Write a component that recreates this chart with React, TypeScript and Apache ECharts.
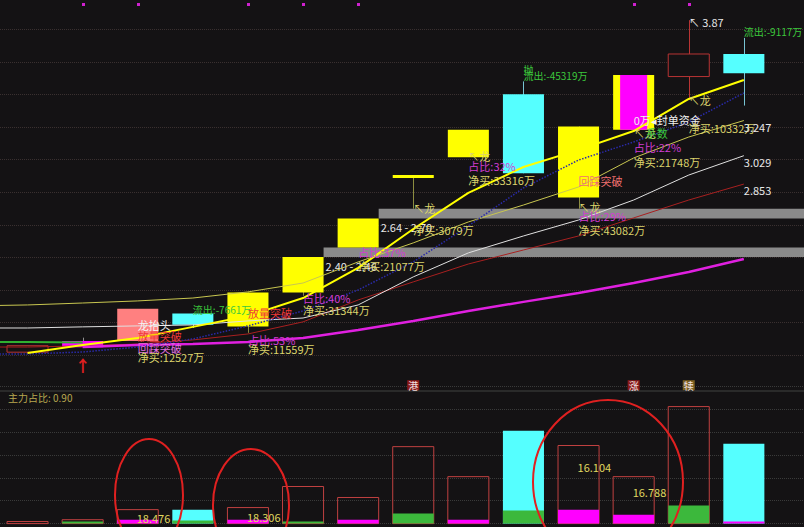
import React, { useEffect, useRef } from "react";
import * as echarts from "echarts";

// ---------- data ----------
const days = ["前", "D1", "D2", "D3", "D4", "D5", "D6", "D7", "D8", "D9", "D10", "D11", "D12", "D13", "D14"];
const openP = [null, 1.81, 1.84, 1.88, 2.05, 1.97, 2.18, 2.46, 2.90, 3.02, 3.41, 2.77, 3.19, 3.52, 3.66];
const closeP = [null, 1.85, 1.88, 2.08, 1.98, 2.18, 2.40, 2.64, 2.90, 3.19, 2.92, 3.21, 3.53, 3.66, 3.54];
const lowP = [null, 1.81, 1.84, 1.88, 1.96, 1.93, 2.16, 2.46, 2.70, 3.02, 2.92, 2.70, 3.19, 3.38, 3.34];
const highP = [null, 1.85, 1.90, 2.08, 2.05, 2.18, 2.40, 2.64, 2.90, 3.19, 3.49, 3.21, 3.53, 3.87, 3.76];
const candleKinds = ["", "hollow", "magenta", "pink", "down", "limit", "limit", "limit", "limit", "limit", "down", "limit", "special", "hollow", "down"];

const maFast = [null, 1.805, 1.855, 1.898, 1.967, 2.035, 2.146, 2.333, 2.574, 2.798, 2.959, 3.065, 3.182, 3.381, 3.499];
const maOlive = [2.097, 2.103, 2.115, 2.128, 2.146, 2.184, 2.239, 2.37, 2.488, 2.618, 2.723, 2.835, 3.015, 3.145, 3.247];
const maWhite = [1.96, 1.96, 1.967, 1.973, 1.979, 2.004, 2.022, 2.103, 2.277, 2.426, 2.531, 2.63, 2.754, 2.909, 3.029];
const maRed = [1.842, 1.842, 1.849, 1.861, 1.886, 1.923, 1.998, 2.134, 2.246, 2.357, 2.444, 2.531, 2.643, 2.754, 2.853];
const maMagenta = [null, null, 1.842, 1.855, 1.861, 1.873, 1.898, 1.948, 2.004, 2.066, 2.122, 2.177, 2.239, 2.308, 2.388];
const maNavy = [1.799, 1.799, 1.811, 1.842, 1.892, 1.973, 2.066, 2.196, 2.37, 2.593, 2.829, 3.002, 3.114, 3.238, 3.418];
const maGreen = [1.873, 1.873, 1.87, null, null, null, null, null, null, null, null, null, null, null, null];

const gaps = [
  { i: 6, low: 2.4, high: 2.46 },
  { i: 7, low: 2.64, high: 2.7 },
];

const volume = [null, 9, 17, 61, 61, 70, 162, 114, 336, 205, 406, 341, 205, 511, 349];
const mainForce = [null, 0, 9, 17, 13, 17, 9, 17, 44, 17, 57, 61, 39, 79, 9];
const mainForceSide = ["", "out", "out", "in", "out", "in", "out", "in", "out", "in", "out", "in", "in", "out", "in"];
const volNotes = [
  { i: 3, v: 26, text: "18.476" },
  { i: 5, v: 31, text: "18.306" },
  { i: 11, v: 249, text: "16.104" },
  { i: 12, v: 140, text: "16.788" },
];
const badges = [
  { i: 8, text: "港", kind: "red" },
  { i: 12, text: "涨", kind: "red" },
  { i: 13, text: "犊", kind: "gold" },
];
const topMarks = [2, 3, 5, 6, 7, 12, 13];

const notes = [
  { i: 2, p: 1.732, text: "↑", kind: "arrow" },
  { i: 3, p: 1.979, text: "龙抬头", kind: "title" },
  { i: 3, p: 1.911, text: "放量突破", kind: "surge" },
  { i: 3, p: 1.836, text: "回踩突破", kind: "pullback" },
  { i: 3, p: 1.78, text: "净买:12527万", kind: "net" },
  { i: 4, p: 2.072, text: "流出:-7661万", kind: "outflow" },
  { i: 5, p: 2.053, text: "放量突破", kind: "surge" },
  { i: 5, p: 1.886, text: "占比:53%", kind: "ratio" },
  { i: 5, p: 1.83, text: "净买:11559万", kind: "net" },
  { i: 6, p: 2.146, text: "占比:40%", kind: "ratio" },
  { i: 6, p: 2.072, text: "净买:31344万", kind: "net" },
  { i: 7, p: 2.432, text: "占比:37%", kind: "ratio" },
  { i: 7, p: 2.345, text: "净买:21077万", kind: "net" },
  { i: 8, p: 2.705, text: "↖龙", kind: "dragon" },
  { i: 8, p: 2.568, text: "净买:3079万", kind: "net" },
  { i: 9, p: 3.027, text: "↖龙", kind: "dragon" },
  { i: 9, p: 2.965, text: "占比:32%", kind: "ratio" },
  { i: 9, p: 2.878, text: "净买:33316万", kind: "net" },
  { i: 10, p: 3.561, text: "抛", kind: "outflow" },
  { i: 10, p: 3.524, text: "流出:-45319万", kind: "outflow" },
  { i: 11, p: 2.872, text: "回踩突破", kind: "pullbackRed" },
  { i: 11, p: 2.711, text: "↖龙", kind: "dragon" },
  { i: 11, p: 2.655, text: "占比:29%", kind: "ratio" },
  { i: 11, p: 2.568, text: "净买:43082万", kind: "net" },
  { i: 12, p: 3.251, text: "0万◂封单资金", kind: "seal" },
  { i: 12, p: 3.17, text: "↖龙", kind: "dragon" },
  { i: 12, p: 3.17, text: "系数", kind: "coef" },
  { i: 12, p: 3.083, text: "占比:22%", kind: "ratio" },
  { i: 12, p: 2.99, text: "净买:21748万", kind: "net" },
  { i: 13, p: 3.375, text: "↖龙", kind: "dragon" },
  { i: 13, p: 3.201, text: "净买:10332万", kind: "net" },
  { i: 13, p: 3.859, text: "↖ 3.87", kind: "high" },
  { i: 14, p: 3.797, text: "流出:-9117万", kind: "outflow" },
];

// ---------- styles ----------
const BG = "#141214";
const FONT = '"Noto Sans CJK SC", "Noto Sans", sans-serif';
const BAR_RATIO = 0.745;
const SLOT_PX = 55.1;
const YELLOW = "#ffff00";
const CYAN = "#55ffff";
const MAGENTA = "#ff00ff";
const VOL_RED = "#c04040";
const GREEN_FILL = "#3cb83c";

const candleStyle: Record<string, any> = {
  hollow: { color: "#b83434", wick: "#b83434", hollow: true },
  magenta: { color: MAGENTA, wick: "#909090" },
  pink: { color: "#ff8080", wick: "#ff8080" },
  down: { color: CYAN, wick: "#78c4d4" },
  limit: { color: YELLOW, wick: "#8c8c40" },
  special: { color: YELLOW, wick: "#8c8c40" },
};

const noteStyle: Record<string, any> = {
  net: { color: "#dcd46c" },
  ratio: { color: "#d23cd2" },
  outflow: { color: "#3cc83c", size: 10 },
  surge: { color: "#f03838" },
  pullback: { color: "#e070e0" },
  pullbackRed: { color: "#f07070" },
  title: { color: "#f4f4f4" },
  dragon: { color: "#dcd46c" },
  seal: { color: "#f0f0f0" },
  coef: { color: "#3cc83c", dx: 12 },
  high: { color: "#e8e8e8" },
  arrow: { color: "#e02020", size: 16, bold: true, center: true },
  maEnd: { color: "#e8e8e8", dy: 6 },
};

const badgeStyle: Record<string, string> = { red: "#8b1a1a", gold: "#7a6020" };

const maEndNotes = [maOlive, maWhite, maRed].map((arr) => {
  const v = arr[arr.length - 1] as number;
  return { i: arr.length - 1, p: v, text: v.toFixed(3), kind: "maEnd" };
});
const allNotes = [...notes, ...maEndNotes];

function lineSeries(data: (number | null)[], color: string, width: number, type: string = "solid", z = 3) {
  return {
    type: "line",
    xAxisIndex: 0,
    yAxisIndex: 0,
    data: data.map((v, k) => [k, v == null ? "-" : v]),
    showSymbol: false,
    symbol: "none",
    connectNulls: false,
    clip: true,
    z,
    lineStyle: { color, width, type },
    silent: true,
  };
}

function buildOption() {
  const candleData = days
    .map((_, k) => (openP[k] == null ? null : [k, openP[k], closeP[k], lowP[k], highP[k]]))
    .filter(Boolean);

  const volData = days
    .map((_, k) => (volume[k] == null ? null : [k, volume[k], mainForce[k]]))
    .filter(Boolean);

  // index axis: slot k centered at SLOT_PX * (k - 0.5) px
  const idxAxis = (gridIndex: number) => ({
    type: "value",
    gridIndex,
    min: 0.5,
    max: 0.5 + 804 / SLOT_PX,
    show: false,
    splitLine: { show: false },
  });

  return {
    animation: false,
    backgroundColor: BG,
    textStyle: { fontFamily: FONT },
    grid: [
      { left: 0, top: 0, width: 804, height: 372 },
      { left: 0, top: 386.2, width: 804, height: 137.4 },
      { left: 0, top: 29.3, width: 804, height: 326 },
    ],
    xAxis: [idxAxis(0), idxAxis(1), idxAxis(2)],
    yAxis: [
      { type: "value", gridIndex: 0, min: 1.687, max: 3.995, show: false, splitLine: { show: false } },
      {
        type: "value",
        gridIndex: 1,
        min: 0,
        max: 600,
        interval: 100,
        axisLine: { show: false },
        axisTick: { show: false },
        axisLabel: { show: false },
        splitLine: { show: true, lineStyle: { color: "#3a3a3a", type: "dotted", width: 1 } },
      },
      {
        type: "value",
        gridIndex: 2,
        min: 0,
        max: 10,
        interval: 1,
        axisLine: { show: false },
        axisTick: { show: false },
        axisLabel: { show: false },
        splitLine: { show: true, lineStyle: { color: "#3a3030", type: "dotted", width: 1 } },
      },
    ],
    series: [
      // price gaps (gray bands)
      {
        type: "custom",
        xAxisIndex: 0,
        yAxisIndex: 0,
        z: 1,
        silent: true,
        clip: false,
        data: gaps.map((g) => [g.i, g.low, g.high]),
        renderItem: (params: any, api: any) => {
          const i = api.value(0);
          const lo = api.value(1);
          const hi = api.value(2);
          const w = api.size([1, 0])[0] * BAR_RATIO;
          const pLo = api.coord([i, lo]);
          const pHi = api.coord([i, hi]);
          const x0 = pLo[0] + w / 2;
          return {
            type: "group",
            children: [
              {
                type: "rect",
                shape: { x: x0, y: pHi[1], width: api.getWidth() - x0, height: pLo[1] - pHi[1] },
                style: { fill: "#8a8a8a" },
              },
              {
                type: "text",
                x: x0 + 2,
                y: pLo[1] + 9,
                style: {
                  text: `${lo.toFixed(2)} - ${hi.toFixed(2)}`,
                  fill: "#e8e8e8",
                  fontSize: 11,
                  fontFamily: FONT,
                  align: "left",
                  verticalAlign: "middle",
                },
              },
            ],
          };
        },
      },
      // candles
      {
        type: "custom",
        xAxisIndex: 0,
        yAxisIndex: 0,
        z: 2,
        silent: true,
        data: candleData,
        encode: { x: 0, y: [1, 2, 3, 4] },
        renderItem: (params: any, api: any) => {
          const i = api.value(0);
          const o = api.value(1);
          const c = api.value(2);
          const l = api.value(3);
          const h = api.value(4);
          const kind = candleKinds[i];
          const st = candleStyle[kind];
          const w = api.size([1, 0])[0] * BAR_RATIO;
          const po = api.coord([i, o]);
          const pc = api.coord([i, c]);
          const pl = api.coord([i, l]);
          const ph = api.coord([i, h]);
          const cx = Math.round(po[0]) + 0.5;
          const x0 = po[0] - w / 2;
          let top = Math.min(po[1], pc[1]);
          let bh = Math.abs(po[1] - pc[1]);
          if (bh < 3) {
            top -= (3 - bh) / 2;
            bh = 3;
          }
          const children: any[] = [];
          if (ph[1] < top - 0.5 || pl[1] > top + bh + 0.5) {
            children.push({
              type: "line",
              shape: { x1: cx, y1: ph[1], x2: cx, y2: pl[1] },
              style: { stroke: st.wick, lineWidth: 1 },
            });
          }
          children.push({
            type: "rect",
            shape: { x: x0, y: top, width: w, height: bh },
            style: st.hollow ? { fill: BG, stroke: st.color, lineWidth: 1 } : { fill: st.color },
          });
          if (kind === "special") {
            children.push({
              type: "rect",
              shape: { x: x0 + 7, y: top, width: w - 14, height: bh },
              style: { fill: MAGENTA },
            });
          }
          return { type: "group", children };
        },
      },
      lineSeries(maGreen, "#30b030", 2),
      lineSeries(maRed, "#a82020", 1),
      lineSeries(maWhite, "#e0e0e0", 1),
      lineSeries(maMagenta, "#e020e0", 2.5),
      lineSeries(maOlive, "#c8c650", 1),
      lineSeries(maNavy, "#2a2aa8", 1.5, "dotted"),
      lineSeries(maFast, YELLOW, 2),
      // top markers
      {
        type: "custom",
        xAxisIndex: 0,
        yAxisIndex: 0,
        z: 4,
        silent: true,
        clip: false,
        data: topMarks.map((i) => [i, 3]),
        renderItem: (params: any, api: any) => {
          const i = api.value(0);
          const p = api.coord([i, 3]);
          return {
            type: "rect",
            shape: { x: Math.round(p[0]) - 1, y: params.coordSys.y + 3, width: 3, height: 3 },
            style: { fill: "#d020d0" },
          };
        },
      },
      // annotations
      {
        type: "custom",
        xAxisIndex: 0,
        yAxisIndex: 0,
        z: 6,
        silent: true,
        clip: false,
        data: allNotes.map((n, k) => [n.i, n.p, k]),
        renderItem: (params: any, api: any) => {
          const n = allNotes[api.value(2)];
          const st = noteStyle[n.kind];
          const pt = api.coord([n.i, n.p]);
          return {
            type: "text",
            x: pt[0] + (st.dx || 0),
            y: pt[1] + (st.dy || 0),
            style: {
              text: n.text,
              fill: st.color,
              fontSize: st.size || 11,
              fontWeight: st.bold ? "bold" : "normal",
              fontFamily: FONT,
              align: st.center ? "center" : "left",
              verticalAlign: "middle",
            },
          };
        },
      },
      // volume / main force
      {
        type: "custom",
        xAxisIndex: 1,
        yAxisIndex: 1,
        z: 2,
        silent: true,
        data: volData,
        encode: { x: 0, y: [1, 2] },
        renderItem: (params: any, api: any) => {
          const i = api.value(0);
          const v = api.value(1);
          const m = api.value(2);
          const w = api.size([1, 0])[0] * BAR_RATIO;
          const pTop = api.coord([i, v]);
          const pBase = api.coord([i, 0]);
          const pM = api.coord([i, m]);
          const x0 = pTop[0] - w / 2;
          const down = (closeP[i] as number) < (openP[i] as number);
          const children: any[] = [
            {
              type: "rect",
              shape: { x: x0, y: pTop[1], width: w, height: pBase[1] - pTop[1] },
              style: down ? { fill: CYAN } : { fill: "none", stroke: VOL_RED, lineWidth: 1 },
            },
          ];
          if (m > 0) {
            children.push({
              type: "rect",
              shape: { x: x0, y: pM[1], width: w, height: pBase[1] - pM[1] },
              style: { fill: mainForceSide[i] === "in" ? MAGENTA : GREEN_FILL },
            });
          }
          return { type: "group", children };
        },
      },
      // volume labels
      {
        type: "custom",
        xAxisIndex: 1,
        yAxisIndex: 1,
        z: 5,
        silent: true,
        clip: false,
        data: volNotes.map((n, k) => [n.i, n.v, k]),
        renderItem: (params: any, api: any) => {
          const n = volNotes[api.value(2)];
          const pt = api.coord([n.i, n.v]);
          return {
            type: "text",
            x: pt[0] - 1,
            y: pt[1],
            style: {
              text: n.text,
              fill: "#e0d860",
              fontSize: 11,
              fontFamily: FONT,
              align: "left",
              verticalAlign: "middle",
            },
          };
        },
      },
      // badges
      {
        type: "custom",
        xAxisIndex: 1,
        yAxisIndex: 1,
        z: 5,
        silent: true,
        clip: false,
        data: badges.map((b, k) => [b.i, 0, k]),
        renderItem: (params: any, api: any) => {
          const b = badges[api.value(2)];
          const pt = api.coord([b.i, 0]);
          return {
            type: "text",
            x: pt[0],
            y: params.coordSys.y - 1,
            style: {
              text: b.text,
              fill: "#f0e0e0",
              fontSize: 10,
              fontFamily: FONT,
              align: "center",
              verticalAlign: "middle",
              backgroundColor: badgeStyle[b.kind],
              padding: [0, 1, 0, 1],
            },
          };
        },
      },
    ],
    graphic: [
      {
        type: "rect",
        shape: { x: 0, y: 390, width: 804, height: 2 },
        style: { fill: "#2a2a2a" },
        z: 1,
      },
      {
        type: "text",
        x: 8,
        y: 397,
        style: { text: "主力占比: 0.90", fill: "#b8a850", fontSize: 10, fontFamily: FONT, verticalAlign: "middle" },
        z: 10,
      },
      {
        type: "ellipse",
        shape: { cx: 149, cy: 495, rx: 34, ry: 56 },
        style: { fill: "none", stroke: "#e02020", lineWidth: 2 },
        z: 20,
      },
      {
        type: "ellipse",
        shape: { cx: 251, cy: 505, rx: 38, ry: 56 },
        style: { fill: "none", stroke: "#e02020", lineWidth: 2 },
        z: 20,
      },
      {
        type: "ellipse",
        shape: { cx: 608, cy: 482, rx: 75, ry: 82 },
        style: { fill: "none", stroke: "#e02020", lineWidth: 2 },
        z: 20,
      },
    ],
  };
}

export default function App() {
  const ref = useRef<HTMLDivElement>(null);
  useEffect(() => {
    if (!ref.current) return;
    const chart = echarts.init(ref.current, null, { renderer: "svg" });
    chart.setOption(buildOption() as any);
    return () => chart.dispose();
  }, []);
  return (
    <div
      ref={ref}
      style={{ position: "fixed", left: 0, top: 0, width: 804, height: 527, background: BG }}
    />
  );
}
